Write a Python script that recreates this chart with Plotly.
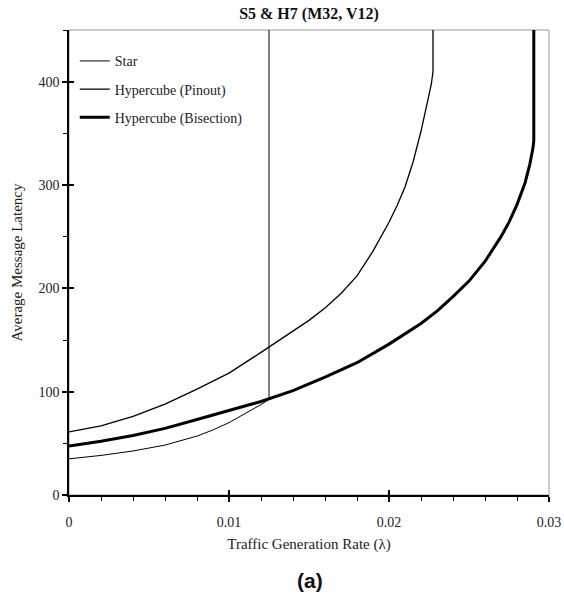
import plotly.graph_objects as go

star_x = [0, 0.002, 0.004, 0.006, 0.008, 0.009, 0.010, 0.011, 0.0115, 0.012, 0.0123, 0.0125, 0.0125]
star_y = [35, 38.3, 42.6, 48.3, 57, 63, 70, 78.5, 82.5, 87.5, 90.5, 93, 450]

pin_x = [0, 0.002, 0.004, 0.006, 0.008, 0.010, 0.012, 0.014, 0.015, 0.016, 0.017, 0.018, 0.019, 0.020, 0.0205,
         0.021, 0.0215, 0.022, 0.0224, 0.02265, 0.02275, 0.02275]
pin_y = [61, 67, 76, 88, 102.5, 118, 138, 159, 169, 181, 195, 212, 236, 264, 280,
         298, 322, 352, 379, 398, 410, 450]

bis_x = [0, 0.002, 0.004, 0.006, 0.008, 0.010, 0.012, 0.014, 0.016, 0.018, 0.020, 0.022, 0.023, 0.024, 0.025,
         0.026, 0.027, 0.0275, 0.028, 0.0285, 0.0288, 0.029, 0.02905, 0.02905]
bis_y = [47.5, 52, 57.5, 64.5, 73, 82, 90.5, 101, 114, 128, 146, 166, 178, 192, 207,
         226, 250, 264, 281, 302, 320, 336, 343, 450]

names = ["Star", "Hypercube (Pinout)", "Hypercube (Bisection)"]
widths = [1, 1.3, 3]

SERIF = "Liberation Serif, Times New Roman, serif"

fig = go.Figure()
for i, (xs, ys) in enumerate([(star_x, star_y), (pin_x, pin_y), (bis_x, bis_y)]):
    fig.add_trace(go.Scatter(x=xs, y=ys, mode="lines", name=names[i],
                             legendgroup=str(i),
                             line=dict(color="black", width=widths[i])))

fig.update_layout(
    width=564, height=601,
    margin=dict(l=69, r=15, t=30, b=106, autoexpand=False),
    paper_bgcolor="white", plot_bgcolor="white",
    font=dict(family=SERIF, size=14, color="#222"),
    title=dict(text="<b>S5 & H7 (M32, V12)</b>", x=(69 + 240) / 564, xanchor="center",
               y=1 - 13 / 601, yanchor="middle", font=dict(size=16, family=SERIF, color="#111")),
    showlegend=True,
    legend=dict(x=0.012, y=0.967, xanchor="left", yanchor="top", bgcolor="rgba(0,0,0,0)",
                font=dict(size=14, family=SERIF), tracegroupgap=7, itemwidth=30),
    xaxis=dict(range=[0, 0.03], dtick=0.01, tick0=0, showgrid=False, zeroline=False, automargin=False,
               showline=True, linecolor="black", linewidth=1.5,
               ticks="outside", ticklen=5, tickcolor="black", tickwidth=1.5,
               ticklabelstandoff=8,
               minor=dict(dtick=0.002, ticks="outside", ticklen=4, tickcolor="black", tickwidth=1),
               title=dict(text="Traffic Generation Rate (λ)", standoff=10, font=dict(size=15, family=SERIF))),
    yaxis=dict(range=[0, 450], dtick=100, tick0=0, showgrid=False, zeroline=False, automargin=False,
               showline=True, linecolor="black", linewidth=1.5,
               ticks="outside", ticklen=5, tickcolor="black", tickwidth=1.5,
               minor=dict(dtick=50, ticks="outside", ticklen=4, tickcolor="black", tickwidth=1),
               title=dict(text="Average Message Latency", standoff=12, font=dict(size=15, family=SERIF))),
    xaxis2=dict(overlaying="x", range=[0, 0.03], dtick=0.01, tick0=0, showgrid=False, zeroline=False,
                showline=False, showticklabels=False, ticks="inside", ticklen=5, automargin=False,
                tickcolor="black", tickwidth=1.5, side="bottom", matches="x"),
    yaxis2=dict(overlaying="y", range=[0, 450], dtick=100, tick0=0, showgrid=False, zeroline=False,
                showline=False, showticklabels=False, ticks="inside", ticklen=5, automargin=False,
                tickcolor="black", tickwidth=1.5, side="left", matches="y"),
    shapes=[dict(type="rect", xref="paper", yref="paper", x0=0, x1=1, y0=0, y1=1,
                 line=dict(color="#999", width=1), layer="below")],
    annotations=[dict(text="<b>(a)</b>", xref="paper", yref="paper", x=0.502, y=-0.183,
                      yanchor="middle", xanchor="center",
                      showarrow=False, font=dict(family="Liberation Sans, Arial, sans-serif", size=21, color="#111"))],
)
# invisible trace to activate the secondary overlay axes for crossing tick marks
fig.add_trace(go.Scatter(x=[0], y=[0], xaxis="x2", yaxis="y2", mode="markers",
                         marker=dict(opacity=0), showlegend=False, hoverinfo="skip"))

fig.write_html("out.html")
